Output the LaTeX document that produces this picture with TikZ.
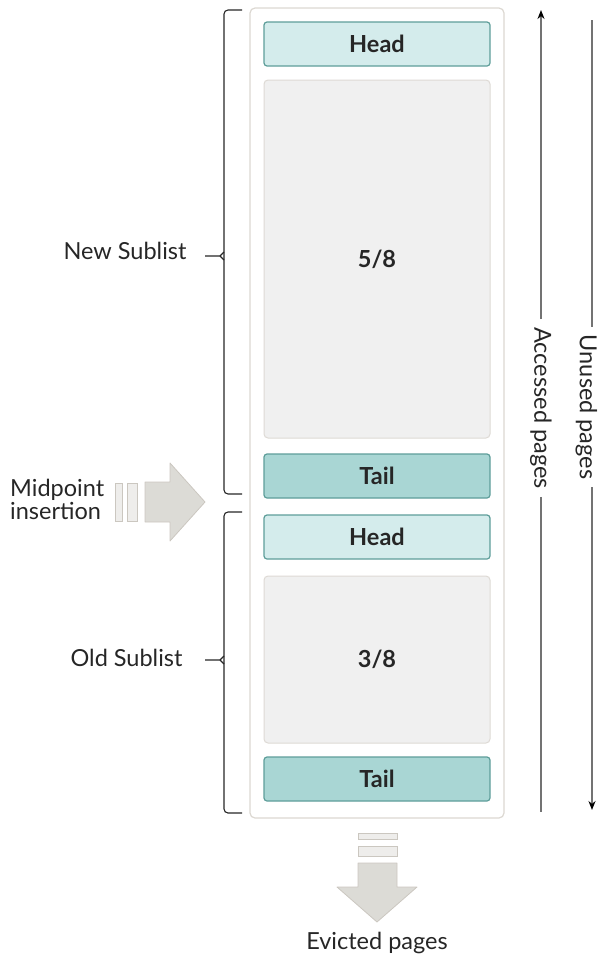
\documentclass[tikz,border=0pt]{standalone}
\usepackage{fontspec}
\setmainfont{Lato}
\usetikzlibrary{arrows.meta}

\definecolor{ink}{HTML}{262626}
\definecolor{headfill}{HTML}{D4ECEC}
\definecolor{tailfill}{HTML}{A9D6D4}
\definecolor{slotline}{HTML}{5E9E9A}
\definecolor{bulkfill}{HTML}{F0F0F0}
\definecolor{bulkline}{HTML}{DEDAD5}
\definecolor{frameline}{HTML}{DCD8D2}
\definecolor{bigarrow}{HTML}{DCDBD6}
\definecolor{bigarrowline}{HTML}{CBC7C0}
\definecolor{barfill}{HTML}{EEEDEB}

\begin{document}
\begin{tikzpicture}[x=1pt,y=-1pt,
    every node/.style={text=ink, font=\fontsize{23.5}{26}\selectfont},
    slot/.style={draw=slotline, rounded corners=3pt, line width=1.2pt,
        minimum width=226pt, minimum height=44pt, font=\fontsize{23.5}{26}\selectfont\bfseries},
    headslot/.style={slot, fill=headfill},
    tailslot/.style={slot, fill=tailfill},
    bulk/.style={draw=bulkline, fill=bulkfill, rounded corners=4pt, line width=1pt,
        minimum width=226pt, font=\fontsize{23.5}{26}\selectfont\bfseries},
    brace/.style={draw=ink, line width=1.1pt, rounded corners=4pt},
    axis/.style={draw=black!55, line width=1.6pt},
    fatarrow/.style={fill=bigarrow, draw=bigarrowline, line width=0.8pt, line join=round},
    bar/.style={fill=barfill, draw=bigarrowline, line width=0.8pt}]
    \useasboundingbox (0,0) rectangle (598,959);
    % buffer pool frame
    \draw[draw=frameline, fill=white, line width=1.2pt, rounded corners=5pt] (250,8) rectangle (504,818);
    % new sublist
    \node[headslot] (head1) at (377,44) {Head};
    \node[bulk, minimum height=358pt] (new) at (377,259) {5/8};
    \node[tailslot] (tail1) at (377,476) {Tail};
    % old sublist
    \node[headslot] (head2) at (377,537) {Head};
    \node[bulk, minimum height=167pt] (old) at (377,659.5) {3/8};
    \node[tailslot] (tail2) at (377,779) {Tail};
    % braces
    \coordinate (nb1) at (242,10);
    \coordinate (nb2) at (242,494);
    \coordinate (ob1) at (242,512);
    \coordinate (ob2) at (242,813);
    \node[anchor=east] (newlbl) at (190,251) {New Sublist};
    \node[anchor=east] (oldlbl) at (186,658) {Old Sublist};
    \draw[brace] (nb1) -| (224,494) -- (nb2);
    \draw[brace] (ob1) -| (224,813) -- (ob2);
    \draw[draw=ink, line width=1.1pt] (205,256) -- (220,256) -- (224,252) (220,256) -- (224,260);
    \draw[draw=ink, line width=1.1pt] (205,660) -- (220,660) -- (224,656) (220,660) -- (224,664);
    % midpoint insertion
    \node[anchor=west, align=left, inner sep=0pt, font=\fontsize{23.5}{23}\selectfont] (mid) at (10,499) {Midpoint\\insertion};
    \draw[bar] (115,483) rectangle (122,521);
    \draw[bar] (127,483) rectangle (137,521);
    \draw[fatarrow] (145,482) -- (170,482) -- (170,463) -- (205,502) -- (170,541) -- (170,522) -- (145,522) -- cycle;
    % evicted pages
    \draw[bar] (358,833) rectangle (397,839);
    \draw[bar] (358,846) rectangle (397,856);
    \draw[fatarrow] (358,863) -- (397,863) -- (397,887) -- (417,887) -- (377,922) -- (337,887) -- (358,887) -- cycle;
    \node (evict) at (377,943) {Evicted pages};
    % page age axes
    \node[rotate=-90, inner sep=8pt] (acc) at (541,408) {Accessed pages};
    \coordinate (acctop) at (541,10);
    \coordinate (accbot) at (541,812);
    \draw[axis, -{Stealth[length=9pt,width=7pt,color=black]}] (acc.west -| acctop) -- (acctop);
    \draw[axis] (acc.east -| accbot) -- (accbot);
    \node[rotate=-90, inner sep=8pt] (unused) at (586.5,407) {Unused pages};
    \coordinate (unutop) at (592,20);
    \coordinate (unubot) at (592,810);
    \draw[axis] (unused.west -| unutop) -- (unutop);
    \draw[axis, -{Stealth[length=9pt,width=7pt,color=black]}] (unused.east -| unubot) -- (unubot);
\end{tikzpicture}
\end{document}
